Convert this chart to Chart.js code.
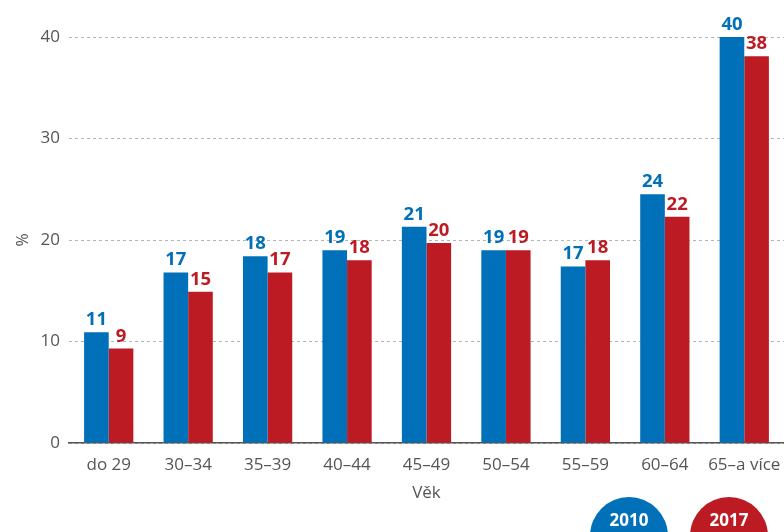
<!DOCTYPE html>
<html>
<head>
<meta charset="utf-8">
<script src="https://cdn.jsdelivr.net/npm/chart.js@4/dist/chart.umd.min.js"></script>
<style>
html,body{margin:0;padding:0;background:#fff;}
#wrap{width:784px;height:532px;position:relative;}
</style>
</head>
<body>
<div id="wrap"><canvas id="c" width="784" height="532"></canvas></div>
<script>
const categories = ["do 29","30–34","35–39","40–44","45–49","50–54","55–59","60–64","65–a více"];
const series2010 = [10.9, 16.8, 18.4, 19.0, 21.3, 19.0, 17.4, 24.5, 40.0];
const series2017 = [9.3, 14.9, 16.8, 18.0, 19.7, 19.0, 18.0, 22.3, 38.1];
const labels2010 = [11, 17, 18, 19, 21, 19, 17, 24, 40];
const labels2017 = [9, 15, 17, 18, 20, 19, 18, 22, 38];
const seriesNames = ["2010", "2017"];
const yTicks = [0, 10, 20, 30, 40];

const BLUE = "#0070b9";
const RED = "#bd1b24";
const FONT = "'Open Sans', 'Noto Sans', sans-serif";

const dataLabels = {
  id: 'dataLabels',
  afterDatasetsDraw(chart) {
    const ctx = chart.ctx;
    const lbls = [labels2010, labels2017];
    chart.data.datasets.forEach((ds, di) => {
      const meta = chart.getDatasetMeta(di);
      meta.data.forEach((bar, i) => {
        ctx.save();
        ctx.fillStyle = ds.backgroundColor;
        ctx.font = "bold 18.5px " + FONT;
        ctx.textAlign = "center";
        ctx.textBaseline = "alphabetic";
        ctx.fillText(String(lbls[di][i]), bar.x, bar.y - 7);
        ctx.restore();
      });
    });
  }
};

const circleLegend = {
  id: 'circleLegend',
  afterDraw(chart) {
    const ctx = chart.ctx;
    const cols = [BLUE, RED];
    const cx = [629, 729];
    seriesNames.forEach((n, i) => {
      ctx.save();
      ctx.fillStyle = cols[i];
      ctx.beginPath();
      ctx.arc(cx[i], 536, 39, 0, Math.PI * 2);
      ctx.fill();
      ctx.fillStyle = "#fff";
      ctx.font = "bold 17px " + FONT;
      ctx.textAlign = "center";
      ctx.textBaseline = "middle";
      ctx.fillText(n, cx[i], 521);
      ctx.restore();
    });
  }
};

new Chart(document.getElementById('c'), {
  type: 'bar',
  data: {
    labels: categories,
    datasets: [
      { label: seriesNames[0], data: series2010, backgroundColor: BLUE, borderWidth: 0 },
      { label: seriesNames[1], data: series2017, backgroundColor: RED, borderWidth: 0 }
    ]
  },
  options: {
    responsive: false,
    animation: false,
    devicePixelRatio: 1,
    layout: { padding: { top: 37, right: 0, bottom: 0, left: 0 } },
    plugins: { legend: { display: false }, tooltip: { enabled: false } },
    datasets: { bar: { categoryPercentage: 0.62, barPercentage: 1.0 } },
    scales: {
      x: {
        grid: { display: false, drawTicks: false },
        border: { display: true, color: "#555", width: 1.5 },
        ticks: { color: "#555", font: { family: FONT, size: 17 }, padding: 12, maxRotation: 0, autoSkip: false },
        title: { display: true, text: "Věk", color: "#555", font: { family: FONT, size: 17 }, padding: { top: 0, bottom: 29 } },
        afterFit(scale) { scale.height = 89; scale.paddingRight = 0; scale.paddingLeft = 0; }
      },
      y: {
        min: 0, max: 40,
        afterBuildTicks(scale) { scale.ticks = yTicks.map(v => ({ value: v })); },
        grid: { color: "#b5b5b5", lineWidth: 1, drawTicks: false },
        border: { display: false, dash: [3, 3] },
        ticks: { color: "#555", font: { family: FONT, size: 17 }, padding: 9 },
        title: { display: true, text: "%", color: "#555", font: { family: FONT, size: 16 }, padding: { top: 14, bottom: 0 } },
        afterFit(scale) { scale.width = 69; scale.paddingTop = 0; scale.paddingBottom = 0; }
      }
    }
  },
  plugins: [dataLabels, circleLegend]
});
</script>
</body>
</html>
